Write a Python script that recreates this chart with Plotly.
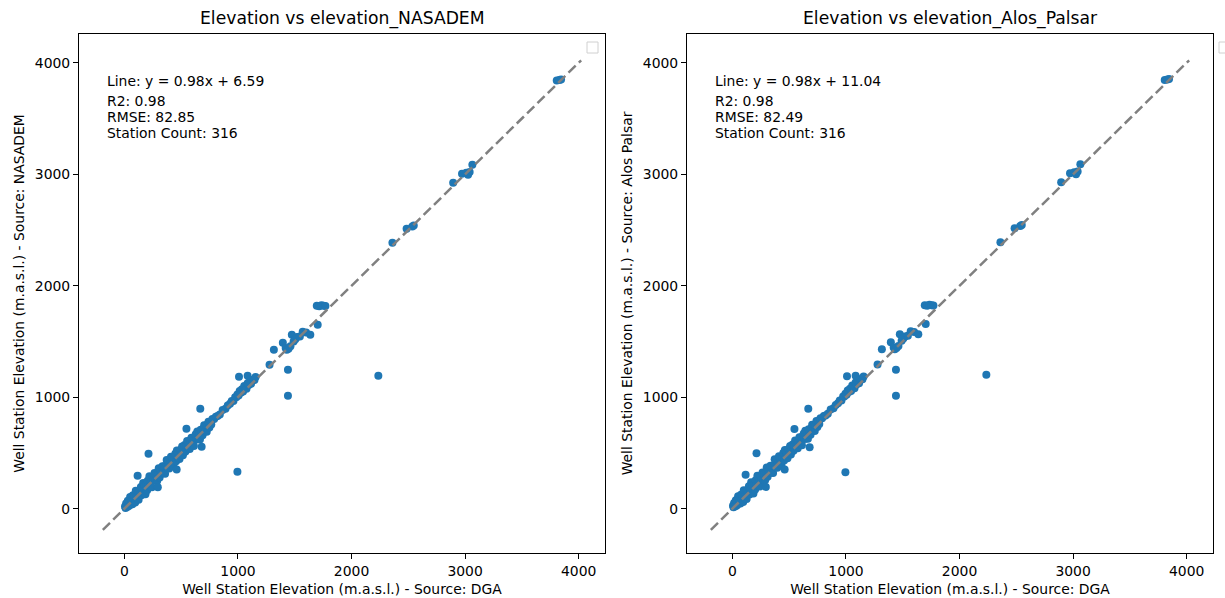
import plotly.graph_objects as go

# ---------------- data ----------------
dga_elev = [
    5, 10, 15, 20, 25, 30, 38, 45, 50, 58,
    62, 70, 75, 82, 88, 95, 100, 108, 112, 120,
    125, 130, 138, 145, 150, 158, 165, 172, 178, 185,
    192, 200, 205, 212, 220, 228, 235, 242, 250, 258,
    265, 272, 280, 288, 295, 302, 310, 318, 325, 335,
    342, 350, 358, 365, 372, 380, 388, 395, 402, 410,
    418, 425, 432, 440, 448, 455, 462, 470, 478, 485,
    492, 500, 508, 515, 522, 530, 538, 545, 552, 560,
    568, 575, 582, 590, 598, 605, 612, 620, 628, 635,
    642, 650, 658, 665, 672, 680, 688, 695, 702, 710,
    718, 725, 732, 740, 748, 755, 765, 775, 790, 805,
    820, 840, 865, 890, 910, 930, 945, 960, 975, 985,
    995, 1005, 1015, 1025, 1035, 1045, 1055, 1065, 1075, 1085,
    1095, 1105, 1115, 1125, 1135, 1145, 1155,
    1009, 1085, 1278, 1316, 1395, 1430, 1462, 1420, 1445, 1474,
    1490, 1505, 1520, 1545, 1570, 1600, 1637, 1702, 1694, 1715,
    1735, 1754, 1770,
    212, 116, 294, 460, 546, 668, 680, 995, 1440, 1440, 2236,
    2360, 2485, 2535, 2548, 2895, 2973, 3010, 3026, 3064, 3040, 3807, 3830, 3845,
]

nasadem_elev = [
    20, 5, 45, 25, 15, 70, 23, 65, 105, 38,
    72, 40, 120, 67, 113, 55, 160, 108, 87, 155,
    80, 150, 128, 195, 120, 163, 230, 152, 208, 130,
    207, 165, 250, 207, 290, 203, 245, 192, 285, 258,
    320, 252, 305, 248, 305, 362, 280, 338, 315, 380,
    317, 380, 313, 380, 437, 365, 428, 360, 407, 465,
    398, 450, 382, 450, 493, 425, 522, 460, 498, 445,
    527, 485, 558, 480, 527, 570, 513, 560, 607, 550,
    593, 535, 592, 635, 578, 635, 562, 625, 668, 620,
    692, 625, 673, 620, 707, 680, 658, 715, 747, 695,
    748, 690, 742, 780, 728, 780, 755, 805, 805, 825,
    830, 845, 885, 895, 925, 940, 965, 965, 1000, 1000,
    1025, 1015, 1055, 1040, 1070, 1050, 1100, 1085, 1075, 1125,
    1110, 1140, 1120, 1155, 1155, 1155, 1180,
    1184, 1193, 1291, 1426, 1489, 1426, 1456, 1440, 1435, 1560,
    1500, 1520, 1540, 1545, 1587, 1580, 1560, 1650, 1820, 1815,
    1825, 1820, 1818,
    493, 296, 191, 350, 717, 897, 556, 332, 1013, 1247, 1193,
    2385, 2511, 2532, 2540, 2923, 3004, 3013, 2995, 3085, 3020, 3841, 3845, 3850,
]

alos_elev = [
    25, 12, 50, 30, 22, 75, 28, 70, 110, 45,
    78, 46, 125, 72, 120, 60, 165, 114, 92, 160,
    86, 155, 134, 200, 126, 168, 236, 158, 213, 136,
    212, 172, 255, 213, 295, 209, 250, 198, 290, 264,
    325, 258, 310, 254, 310, 368, 286, 343, 321, 385,
    323, 385, 319, 386, 442, 371, 433, 366, 412, 471,
    404, 455, 388, 456, 498, 431, 527, 466, 503, 451,
    532, 491, 563, 486, 532, 576, 519, 565, 612, 556,
    598, 541, 597, 641, 583, 641, 568, 630, 674, 625,
    698, 630, 679, 626, 712, 686, 663, 721, 752, 701,
    753, 696, 747, 786, 733, 786, 760, 811, 810, 831,
    835, 851, 890, 901, 930, 946, 970, 971, 1005, 1006,
    1030, 1021, 1060, 1046, 1075, 1056, 1105, 1091, 1080, 1131,
    1115, 1146, 1125, 1161, 1160, 1161, 1185,
    1187, 1193, 1294, 1429, 1492, 1430, 1460, 1446, 1440, 1565,
    1506, 1526, 1545, 1550, 1592, 1585, 1565, 1656, 1824, 1820,
    1830, 1825, 1822,
    496, 305, 195, 350, 715, 897, 550, 326, 1013, 1247, 1202,
    2390, 2515, 2536, 2545, 2928, 3008, 3018, 3000, 3090, 3025, 3845, 3850, 3855,
]

one_to_one = [-190, 4022]
tick_values = [0, 1000, 2000, 3000, 4000]
x_range = [-400, 4232]
y_range = [-398, 4258]

titles = ["Elevation vs elevation_NASADEM", "Elevation vs elevation_Alos_Palsar"]
x_label = "Well Station Elevation (m.a.s.l.) - Source: DGA"
y_labels = ["Well Station Elevation (m.a.s.l.) - Source: NASADEM",
            "Well Station Elevation (m.a.s.l.) - Source: Alos Palsar"]
stats_left = ["Line: y = 0.98x + 6.59", "R2: 0.98", "RMSE: 82.85", "Station Count: 316"]
stats_right = ["Line: y = 0.98x + 11.04", "R2: 0.98", "RMSE: 82.49", "Station Count: 316"]

# ---------------- figure ----------------
W, H = 1225, 598
FONT = "DejaVu Sans"
BLUE = "#1f77b4"

fig = go.Figure()

for i, yvals in enumerate([nasadem_elev, alos_elev]):
    xa = "x" if i == 0 else "x2"
    ya = "y" if i == 0 else "y2"
    fig.add_trace(go.Scatter(
        x=dga_elev, y=yvals, mode="markers", xaxis=xa, yaxis=ya,
        marker=dict(color=BLUE, size=8, line=dict(width=0)),
        showlegend=False, hoverinfo="x+y"))
    fig.add_trace(go.Scatter(
        x=one_to_one, y=one_to_one, mode="lines", xaxis=xa, yaxis=ya,
        line=dict(color="#808080", width=2.5, dash="10px,4.5px"),
        showlegend=False, hoverinfo="skip"))

left_dom = [79 / W, 605 / W]
right_dom = [687 / W, 1213 / W]
y_dom = [1 - 553 / H, 1 - 34 / H]

axis_common = dict(
    tickvals=tick_values, showgrid=False, zeroline=False,
    showline=True, mirror=True, linecolor="black", linewidth=1.1,
    ticks="outside", ticklen=5, tickwidth=1.1, tickcolor="black",
    tickfont=dict(family=FONT, size=13.9, color="black"),
    automargin=False,
)

fig.update_layout(
    width=W, height=H,
    margin=dict(l=0, r=0, t=0, b=0),
    paper_bgcolor="white", plot_bgcolor="white",
    font=dict(family=FONT, color="black"),
    showlegend=False,
    xaxis=dict(domain=left_dom, anchor="y", range=x_range, **axis_common,
               title=dict(text=x_label, font=dict(family=FONT, size=13.9), standoff=6)),
    yaxis=dict(domain=y_dom, anchor="x", range=y_range, **axis_common,
               title=dict(text=y_labels[0], font=dict(family=FONT, size=13.9), standoff=6)),
    xaxis2=dict(domain=right_dom, anchor="y2", range=x_range, **axis_common,
                title=dict(text=x_label, font=dict(family=FONT, size=13.9), standoff=6)),
    yaxis2=dict(domain=y_dom, anchor="x2", range=y_range, **axis_common,
                title=dict(text=y_labels[1], font=dict(family=FONT, size=13.9), standoff=6)),
)

annotations = []
for dom, title in zip([left_dom, right_dom], titles):
    annotations.append(dict(
        text=title, xref="paper", yref="paper",
        x=(dom[0] + dom[1]) / 2, y=1 - 19 / H, xanchor="center", yanchor="middle",
        showarrow=False, font=dict(family=FONT, size=17.2, color="black")))

line_rows = [81, 101, 117, 133]
for xd, yd, stats in [("x domain", "y domain", stats_left), ("x2 domain", "y2 domain", stats_right)]:
    for txt, row in zip(stats, line_rows):
        annotations.append(dict(
            text=txt, xref=xd, yref=yd, x=0.05, y=(553 - row) / 519,
            xanchor="left", yanchor="middle", showarrow=False,
            font=dict(family=FONT, size=13.9, color="black")))
fig.update_layout(annotations=annotations)

# empty legend boxes (as in the reference)
for x0 in [587, 1219]:
    fig.add_shape(type="rect", xref="paper", yref="paper",
                  x0=x0 / W, x1=(x0 + 11) / W, y0=1 - 53 / H, y1=1 - 42 / H,
                  line=dict(color="#d0d0d0", width=1), fillcolor="white", layer="above")

fig.write_html(
    "out.html",
    config={"displayModeBar": False},
    post_script="document.body.style.margin='0';document.body.style.overflow='hidden';",
)
